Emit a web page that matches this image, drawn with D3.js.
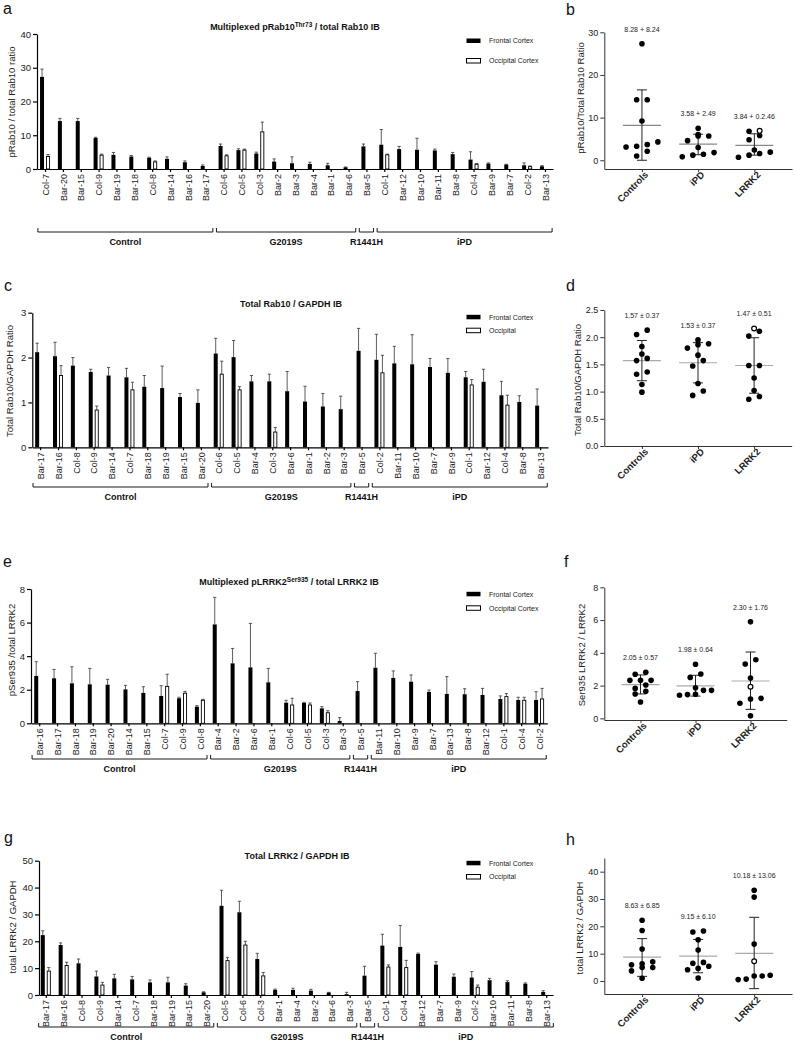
<!DOCTYPE html>
<html><head><meta charset="utf-8">
<script src="https://cdn.jsdelivr.net/npm/d3@7"></script>
<style>body{margin:0;background:#fff} svg{font-family:"Liberation Sans",Arial,sans-serif}</style>
</head><body><svg id="fig" width="795" height="1051"></svg>
<script>
// ---------------- DATA ----------------
const groupNames = ["Control", "G2019S", "R1441H", "iPD"];
const groupSizes = [10, 8, 1, 10];
const scatterGroups = ["Controls", "iPD", "LRRK2"];

// Panel a
const titleA = ["Multiplexed pRab10", "Thr73", " / total Rab10 IB"];
const legendA = ["Frontal Cortex", "Occipital Cortex"];
const ticksA = [0, 10, 20, 30, 40];
const catsA = ["Col-7","Bar-20","Bar-15","Col-9","Bar-19","Bar-18","Col-8","Bar-14","Bar-16","Bar-17","Col-6","Col-5","Col-3","Bar-2","Bar-3","Bar-4","Bar-1","Bar-6","Bar-5","Col-1","Bar-12","Bar-10","Bar-11","Bar-8","Col-4","Bar-9","Bar-7","Col-2","Bar-13"];
const frontA = [27.3,14.2,14.2,9.2,4.2,3.7,3.3,3.0,2.0,0.9,6.8,5.6,4.6,2.2,1.7,1.5,1.1,0.5,6.7,7.2,5.9,5.7,5.5,4.4,2.8,1.6,1.3,1.1,0.8];
const frontErrA = [2.3,0.8,0.8,0.2,0.7,0.3,0.2,0.6,0.4,0.3,0.6,0.4,0.4,0.8,1.9,0.5,0.6,0.1,0.7,4.5,0.8,3.4,0.4,0.5,2.3,0.2,0.1,0.7,0.2];
const occA = [3.7,null,null,4.1,null,null,2.1,null,null,null,3.9,5.6,11.0,null,null,null,null,null,null,4.2,null,null,null,null,1.4,null,null,0.7,null];
const occErrA = [0.6,null,null,0.3,null,null,0.3,null,null,null,0.3,0.3,2.9,null,null,null,null,null,null,0.2,null,null,null,null,0.2,null,null,0.2,null];

// Panel c
const titleC = ["Total Rab10 / GAPDH IB"];
const legendC = ["Frontal Cortex", "Occipital"];
const ticksC = [0, 1, 2, 3];
const catsC = ["Bar-17","Bar-16","Col-8","Col-9","Bar-14","Col-7","Bar-18","Bar-19","Bar-15","Bar-20","Col-6","Col-5","Bar-4","Col-3","Bar-6","Bar-1","Bar-2","Bar-3","Bar-5","Col-2","Bar-11","Bar-10","Bar-7","Bar-9","Col-1","Bar-12","Col-4","Bar-8","Bar-13"];
const frontC = [2.12,2.03,1.82,1.68,1.60,1.56,1.35,1.32,1.12,0.99,2.09,2.01,1.47,1.47,1.25,1.02,0.91,0.85,2.15,1.95,1.87,1.85,1.79,1.66,1.56,1.46,1.16,1.01,0.93];
const frontErrC = [0.20,0.31,0.18,0.06,0.18,0.20,0.25,0.49,0.08,0.29,0.34,0.37,0.13,0.16,0.44,0.34,0.29,0.29,0.50,0.57,0.38,0.66,0.19,0.32,0.13,0.28,0.31,0.14,0.37];
const occC = [null,1.60,null,0.83,null,1.28,null,null,null,null,1.63,1.28,null,0.34,null,null,null,null,null,1.66,null,null,null,null,1.39,null,0.94,null,null];
const occErrC = [null,0.22,null,0.09,null,0.17,null,null,null,null,0.29,0.07,null,0.10,null,null,null,null,null,0.39,null,null,null,null,0.12,null,0.22,null,null];

// Panel e
const titleE = ["Multiplexed pLRRK2", "Ser935", " / total LRRK2 IB"];
const legendE = ["Frontal Cortex", "Occipital Cortex"];
const ticksE = [0, 2, 4, 6, 8];
const catsE = ["Bar-16","Bar-17","Bar-18","Bar-19","Bar-20","Bar-14","Bar-15","Col-7","Col-9","Col-8","Bar-4","Bar-2","Bar-6","Bar-1","Col-6","Col-5","Col-3","Bar-3","Bar-5","Bar-11","Bar-10","Bar-9","Bar-7","Bar-13","Bar-8","Bar-12","Col-1","Col-4","Col-2"];
const frontE = [2.82,2.68,2.38,2.32,2.30,2.02,1.81,1.63,1.49,0.99,5.89,3.57,3.33,2.44,1.23,1.21,0.89,0.14,1.92,3.31,2.70,2.48,1.87,1.75,1.73,1.69,1.45,1.39,1.39];
const frontErrE = [0.85,0.53,0.99,0.95,0.32,0.24,0.37,0.61,0.06,0.06,1.61,0.89,2.62,0.83,0.14,0.04,0.10,0.20,0.56,0.86,0.42,0.40,0.11,1.03,0.33,0.39,0.18,0.16,0.49];
const occE = [null,null,null,null,null,null,null,2.20,1.79,1.37,null,null,null,null,1.09,1.09,0.63,null,null,null,null,null,null,null,null,null,1.59,1.37,1.45];
const occErrE = [null,null,null,null,null,null,null,0.72,0.11,0.06,null,null,null,null,0.40,0.12,0.12,null,null,null,null,null,null,null,null,null,0.18,0.18,0.63];

// Panel g
const titleG = ["Total LRRK2 / GAPDH IB"];
const legendG = ["Frontal Cortex", "Occipital"];
const ticksG = [0, 10, 20, 30, 40, 50];
const catsG = ["Bar-17","Bar-16","Col-8","Col-9","Bar-14","Col-7","Bar-18","Bar-19","Bar-15","Bar-20","Col-5","Col-6","Col-3","Bar-1","Bar-4","Bar-2","Bar-6","Bar-3","Bar-5","Col-1","Col-4","Bar-12","Bar-7","Bar-9","Col-2","Bar-10","Bar-11","Bar-8","Bar-13"];
const frontG = [22.3,18.6,11.8,6.9,6.2,5.8,4.7,4.7,3.5,1.0,33.2,30.8,13.4,1.9,1.9,1.6,0.9,0.3,7.2,18.4,17.9,15.3,11.3,6.8,6.5,5.5,4.8,4.2,1.1];
const frontErrG = [1.6,0.8,1.6,2.0,1.5,1.1,0.9,1.9,0.7,0.2,5.8,4.1,2.1,0.3,0.6,0.5,0.1,0.7,3.5,4.2,8.0,0.3,1.1,1.0,2.2,0.7,0.5,0.3,0.5];
const occG = [8.9,11.0,null,3.7,null,null,null,null,null,null,12.8,18.6,7.1,null,null,null,null,null,null,10.4,10.2,null,null,null,2.9,null,null,null,null];
const occErrG = [1.3,1.2,null,1.0,null,null,null,null,null,null,1.2,1.4,1.3,null,null,null,null,null,null,0.8,2.7,null,null,null,0.8,null,null,null,null];

// Panel b
const ctrlB = [27.3,14.2,14.2,9.2,4.3,3.7,3.3,3.1,2.1,1.0];
const ipdB = [7.5,6.0,5.7,5.7,4.6,3.0,1.8,1.4,1.2,0.8];
const lrrkB = [6.8,5.8,4.8,2.4,1.9,1.6,1.2,0.7];
const lrrkOpenB = [6.9];
const meanB = [8.2, 3.8, 3.5];
const lowB = [0.0, 1.3, 1.2];
const highB = [16.5, 6.1, 6.2];
const statB = ["8.28 + 8.24", "3.58 + 2.49", "3.84 + 0.2.46"];
const ticksB = [0, 10, 20, 30];

// Panel d
const ctrlD = [2.13,2.05,1.83,1.69,1.61,1.57,1.36,1.32,1.13,0.99];
const ipdD = [1.95,1.88,1.86,1.80,1.67,1.57,1.47,1.15,1.01,0.93];
const lrrkD = [2.11,2.02,1.48,1.48,1.25,1.02,0.91,0.86];
const lrrkOpenD = [2.16];
const meanD = [1.57, 1.53, 1.48];
const lowD = [1.20, 1.16, 0.97];
const highD = [1.94, 1.90, 1.99];
const statD = ["1.57 ± 0.37", "1.53 ± 0.37", "1.47 ± 0.51"];
const ticksD = [0, 0.5, 1.0, 1.5, 2.0, 2.5];

// Panel f
const ctrlF = [2.81,2.69,2.32,2.32,2.32,2.04,1.83,1.65,1.49,1.00];
const ipdF = [3.30,2.71,2.50,1.87,1.71,1.71,1.47,1.45,1.41];
const lrrkF = [5.89,3.58,3.32,2.46,1.22,1.18,0.92,0.16];
const lrrkOpenF = [1.93];
const meanF = [2.06, 1.98, 2.28];
const lowF = [1.49, 1.36, 0.55];
const highF = [2.65, 2.63, 4.05];
const statF = ["2.05 ± 0.57", "1.98 ± 0.64", "2.30 ± 1.76"];
const ticksF = [0, 2, 4, 6, 8];

// Panel h
const ctrlH = [22.2,18.5,11.7,7.0,6.3,5.9,4.9,4.9,3.7,1.0];
const ipdH = [18.3,17.9,15.1,11.3,6.8,6.5,5.4,4.6,4.1,1.1];
const lrrkH = [33.2,30.7,13.5,2.1,1.8,1.8,0.7,0.5];
const lrrkOpenH = [7.2];
const meanH = [8.7, 9.1, 10.1];
const lowH = [1.7, 3.0, -2.8];
const highH = [15.5, 15.2, 23.3];
const statH = ["8.63 ± 6.85", "9.15 ± 6.10", "10.18 ± 13.06"];
const ticksH = [0, 10, 20, 30, 40];

// ---------------- DRAWING ----------------
const svg = d3.select("#fig");

function letter(t, x, y) {
  svg.append("text").attr("x", x).attr("y", y).attr("font-size", 16).attr("fill", "#111").text(t);
}

function styleAxis(ax, col, w) {
  ax.select(".domain").attr("stroke", col).attr("stroke-width", w);
  ax.selectAll(".tick line").attr("stroke", col).attr("stroke-width", w);
  ax.selectAll("text").attr("fill", "#222").attr("font-family", "Liberation Sans, Arial, sans-serif");
}

function yLabel(t, x, y) {
  svg.append("text").attr("transform", `translate(${x},${y}) rotate(-90)`)
    .attr("text-anchor", "middle").attr("dy", "0.35em").attr("font-size", 9.5).attr("fill", "#222").text(t);
}

function barPanel(o) {
  const g = svg.append("g");
  const idx = d3.range(o.cats.length);
  const x = d3.scalePoint().domain(idx).range([o.x0, o.x1]).padding(o.pad);
  const y = d3.scaleLinear().domain([0, o.ymax]).range([o.yb, o.yt]);

  const ya = g.append("g").attr("transform", `translate(${o.x0},0)`)
    .call(d3.axisLeft(y).tickValues(o.ticks).tickFormat(d3.format("d")).tickSize(4).tickSizeOuter(0).tickPadding(2));
  ya.selectAll("text").attr("font-size", 9.5);
  styleAxis(ya, "#000", 1.2);

  const xa = g.append("g").attr("transform", `translate(0,${o.yb})`)
    .call(d3.axisBottom(x).tickSize(3).tickSizeOuter(0).tickFormat(i => o.cats[i]));
  xa.selectAll("text").attr("transform", "rotate(-90)").attr("text-anchor", "end")
    .attr("x", -5).attr("y", 0).attr("dy", "0.35em").attr("font-size", 9);
  styleAxis(xa, "#000", 1.2);

  const bw = 4;
  function err(cx, v, e) {
    g.append("line").attr("x1", cx).attr("x2", cx).attr("y1", y(v)).attr("y2", y(v + e))
      .attr("stroke", "#333").attr("stroke-width", 0.8);
    g.append("line").attr("x1", cx - 1.6).attr("x2", cx + 1.6).attr("y1", y(v + e)).attr("y2", y(v + e))
      .attr("stroke", "#333").attr("stroke-width", 0.8);
  }
  o.front.forEach((v, i) => {
    err(x(i) - 1 - bw / 2, v, o.ferr[i]);
  });
  g.selectAll("rect.f").data(o.front).join("rect").attr("class", "f")
    .attr("x", (d, i) => x(i) - 1 - bw).attr("y", d => y(d))
    .attr("width", bw).attr("height", d => o.yb - y(d)).attr("fill", "#000");
  o.occ.forEach((v, i) => {
    if (v == null) return;
    err(x(i) + 1 + bw / 2, v, o.oerr[i]);
    g.append("rect").attr("x", x(i) + 1.45).attr("y", y(v))
      .attr("width", bw - 0.9).attr("height", o.yb - y(v))
      .attr("fill", "#fff").attr("stroke", "#000").attr("stroke-width", 0.9);
  });

  // group brackets
  let start = 0;
  groupNames.forEach((gn, k) => {
    const n = groupSizes[k];
    const xl = x(start) - 0.4 * x.step(), xr = x(start + n - 1) + 0.4 * x.step();
    g.append("path").attr("d", `M${xl},${o.by - 4}V${o.by}H${xr}V${o.by - 4}`)
      .attr("fill", "none").attr("stroke", "#000").attr("stroke-width", 0.9);
    g.append("text").attr("x", (xl + xr) / 2).attr("y", o.by + 13).attr("text-anchor", "middle")
      .attr("font-size", 9).attr("font-weight", "bold").attr("fill", "#111").text(gn);
    start += n;
  });

  // title
  const t = g.append("text").attr("x", o.tx).attr("y", o.ty).attr("text-anchor", "middle")
    .attr("font-size", 9).attr("font-weight", "bold").attr("fill", "#111");
  o.title.forEach((s, k) => {
    const sp = t.append("tspan").text(s);
    if (k === 1) sp.attr("baseline-shift", "super").attr("font-size", 6.5);
  });

  // legend
  o.legend.forEach((lab, k) => {
    const ly = o.ly[k];
    g.append("rect").attr("x", 466.5).attr("y", ly - 2.5).attr("width", 14).attr("height", 4.5)
      .attr("fill", k === 0 ? "#000" : "#fff").attr("stroke", "#000").attr("stroke-width", k === 0 ? 0 : 1);
    g.append("text").attr("x", 489).attr("y", ly).attr("dy", "0.35em").attr("font-size", 7)
      .attr("fill", "#222").text(lab);
  });
}

function swarm(vals, opens, y, T, sp, maxHalf) {
  const pts = vals.map(v => ({ v, open: false })).concat(opens.map(v => ({ v, open: true })));
  pts.sort((a, b) => a.v - b.v);
  let i = 0;
  while (i < pts.length) {
    const y0 = y(pts[i].v);
    let j = i;
    while (j < pts.length && Math.abs(y(pts[j].v) - y0) <= T) j++;
    const n = j - i;
    const s = n > 1 ? Math.min(sp, 2 * maxHalf / (n - 1)) : 0;
    for (let k = 0; k < n; k++) pts[i + k].dx = (k - (n - 1) / 2) * s;
    i = j;
  }
  return pts;
}

function scatterPanel(o) {
  const g = svg.append("g");
  const x = d3.scalePoint().domain([0, 1, 2]).range([o.x0, o.x1]).padding(o.pad);
  const y = d3.scaleLinear().domain(o.ydom).range([o.yb, o.yt]);

  const ya = g.append("g").attr("transform", `translate(${o.x0},0)`)
    .call(d3.axisLeft(y).tickValues(o.ticks).tickSize(4).tickSizeOuter(0).tickPadding(2)
      .tickFormat(o.fmt ? d3.format(o.fmt) : d3.format("d")));
  ya.selectAll("text").attr("font-size", 9);
  styleAxis(ya, "#333", 1);

  const xa = g.append("g").attr("transform", `translate(0,${o.yb})`)
    .call(d3.axisBottom(x).tickSize(3).tickSizeOuter(0).tickFormat(i => scatterGroups[i]));
  xa.selectAll("text").attr("transform", "translate(4,4) rotate(-45)").attr("text-anchor", "end")
    .attr("x", 0).attr("y", 0).attr("dy", "0.35em").attr("font-size", 9.5).attr("font-weight", "bold");
  styleAxis(xa, "#333", 1);

  o.groups.forEach((vals, k) => {
    const cx = x(k);
    g.append("line").attr("x1", cx - 19).attr("x2", cx + 19).attr("y1", y(o.mean[k])).attr("y2", y(o.mean[k]))
      .attr("stroke", o.meanCol).attr("stroke-width", 1.2);
    g.append("line").attr("x1", cx).attr("x2", cx).attr("y1", y(o.low[k])).attr("y2", y(o.high[k]))
      .attr("stroke", "#222").attr("stroke-width", 1);
    [o.low[k], o.high[k]].forEach(v => {
      g.append("line").attr("x1", cx - 5).attr("x2", cx + 5).attr("y1", y(v)).attr("y2", y(v))
        .attr("stroke", "#222").attr("stroke-width", 1);
    });
    const pts = swarm(vals, k === 2 ? o.open : [], y, 5.5, 10.6, 16);
    g.selectAll(null).data(pts).join("circle")
      .attr("cx", d => cx + d.dx).attr("cy", d => y(d.v)).attr("r", d => d.open ? 2.4 : 2.8)
      .attr("fill", d => d.open ? "#fff" : "#000").attr("stroke", "#000").attr("stroke-width", d => d.open ? 1.2 : 0);
    const top = d3.max(pts, d => d.v);
    g.append("text").attr("x", cx).attr("y", y(top) - 12).attr("text-anchor", "middle")
      .attr("font-size", 7).attr("fill", "#222").text(o.stats[k]);
  });
}

// ---- Panel a/b ----
letter("a", 3, 14);
barPanel({ cats: catsA, front: frontA, ferr: frontErrA, occ: occA, oerr: occErrA,
  x0: 37, x1: 553, pad: 0.45, yb: 169, yt: 34, ymax: 40, ticks: ticksA,
  title: titleA, tx: 295, ty: 30, legend: legendA, ly: [41, 61], by: 232 });
yLabel("pRab10 / total Rab10 ratio", 12, 102);

letter("b", 566, 15);
scatterPanel({ groups: [ctrlB, ipdB, lrrkB], open: lrrkOpenB, mean: meanB, low: lowB, high: highB, stats: statB,
  x0: 604.3, x1: 792, pad: 0.67, yb: 169, yt: 32.3, ydom: [-2.05, 30], ticks: ticksB, meanCol: "#888" });
yLabel("pRab10/Total Rab10 Ratio", 581, 98);

// ---- Panel c/d ----
letter("c", 4, 291);
barPanel({ cats: catsC, front: frontC, ferr: frontErrC, occ: occC, oerr: occErrC,
  x0: 32.3, x1: 548, pad: 0.44, yb: 447.3, yt: 312.7, ymax: 3, ticks: ticksC,
  title: titleC, tx: 291, ty: 307, legend: legendC, ly: [317.3, 330.7], by: 487 });
yLabel("Total Rab10/GAPDH  Ratio", 10, 381);

letter("d", 566, 291);
scatterPanel({ groups: [ctrlD, ipdD, lrrkD], open: lrrkOpenD, mean: meanD, low: lowD, high: highD, stats: statD,
  x0: 604.3, x1: 791.7, pad: 0.67, yb: 446, yt: 310, ydom: [0, 2.5], ticks: ticksD, fmt: ".1f", meanCol: "#aaa" });
yLabel("Total Rab10/GAPDH  Ratio", 578, 380);

// ---- Panel e/f ----
letter("e", 3, 567);
barPanel({ cats: catsE, front: frontE, ferr: frontErrE, occ: occE, oerr: occErrE,
  x0: 31, x1: 547.3, pad: 0.46, yb: 723.3, yt: 589, ymax: 8, ticks: ticksE,
  title: titleE, tx: 289, ty: 584.5, legend: legendE, ly: [594.3, 608.3], by: 759 });
yLabel("pSer935 /total LRRK2", 12, 650);

letter("f", 564, 567);
scatterPanel({ groups: [ctrlF, ipdF, lrrkF], open: lrrkOpenF, mean: meanF, low: lowF, high: highF, stats: statF,
  x0: 604.3, x1: 786.7, pad: 0.658, yb: 720, yt: 587.3, ydom: [-0.1, 8], ticks: ticksF, meanCol: "#aaa" });
yLabel("Ser935 LRRK2 / LRRK2", 582, 655);

// ---- Panel g/h ----
letter("g", 4, 843);
barPanel({ cats: catsG, front: frontG, ferr: frontErrG, occ: occG, oerr: occErrG,
  x0: 39, x1: 553, pad: 0.38, yb: 995, yt: 860.7, ymax: 50, ticks: ticksG,
  title: titleG, tx: 297, ty: 858.5, legend: legendG, ly: [863.3, 877], by: 1027 });
yLabel("total LRRK2 / GAPDH", 13, 927);

letter("h", 566, 845);
scatterPanel({ groups: [ctrlH, ipdH, lrrkH], open: lrrkOpenH, mean: meanH, low: lowH, high: highH, stats: statH,
  x0: 604.3, x1: 792, pad: 0.675, yb: 994, yt: 858, ydom: [-4.76, 45], ticks: ticksH, meanCol: "#aaa" });
yLabel("total LRRK2 / GAPDH", 580, 928);
</script>
</body></html>
